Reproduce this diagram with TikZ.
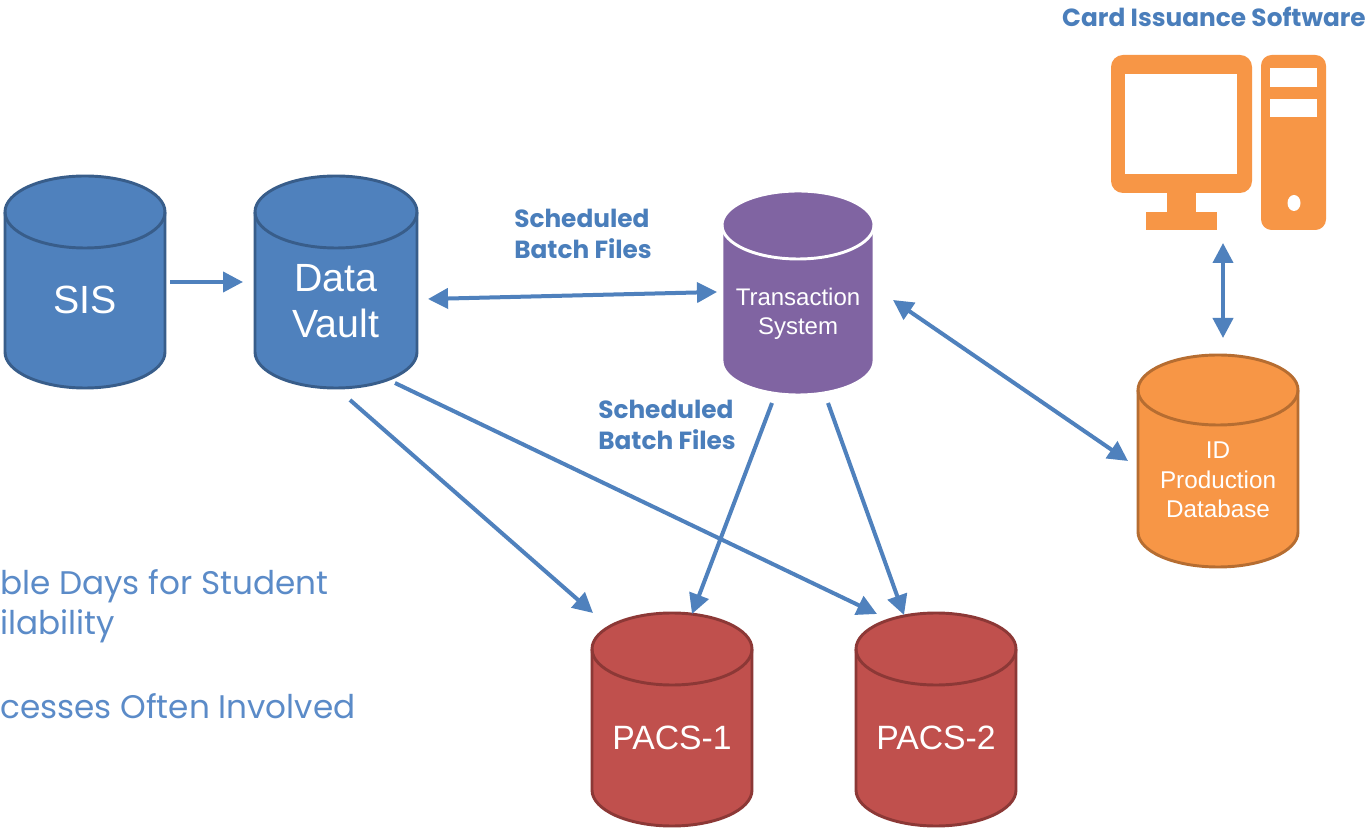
\documentclass[tikz,border=0pt]{standalone}
\usepackage{fontspec}
\setmainfont{Liberation Sans}
\newfontfamily\cg{Poppins}
\usetikzlibrary{arrows.meta,calc}
\definecolor{dbblue}{HTML}{4F81BD}
\definecolor{dbblueD}{HTML}{385D8A}
\definecolor{tspurp}{HTML}{8064A2}
\definecolor{pacsred}{HTML}{C0504D}
\definecolor{pacsredD}{HTML}{8C3836}
\definecolor{idor}{HTML}{F79646}
\definecolor{idorD}{HTML}{B66D31}
\definecolor{arrblue}{HTML}{4F81BD}
\definecolor{lblblue}{HTML}{4A7EBB}
\definecolor{txtblue}{HTML}{5B8BC8}
% #1 cx, #2 ytop (image px), #3 ybottom (image px), #4 rx, #5 ry, #6 style
\newcommand\dbcyl[6]{%
  \path[#6] ({#1-#4},{828-#2-#5}) -- ({#1-#4},{828-#3+#5})
    arc[start angle=180,end angle=360,x radius=#4,y radius=#5]
    -- ({#1+#4},{828-#2-#5})
    arc[start angle=0,end angle=180,x radius=#4,y radius=#5] -- cycle;
  \path[#6,fill=none] ({#1-#4},{828-#2-#5})
    arc[start angle=180,end angle=360,x radius=#4,y radius=#5];
}
\tikzset{
  bluecyl/.style={fill=dbblue,draw=dbblueD,line width=2.2pt},
  purpcyl/.style={fill=tspurp,draw=white,line width=2.2pt},
  redcyl/.style={fill=pacsred,draw=pacsredD,line width=2.2pt},
  orcyl/.style={fill=idor,draw=idorD,line width=2.2pt},
  dbtxt/.style={text=white,align=center,inner sep=0pt},
  conn/.style={draw=arrblue,line width=3pt,-{Triangle[length=15pt,width=15pt]}},
  bconn/.style={draw=arrblue,line width=3pt,{Triangle[length=15pt,width=15pt]}-{Triangle[length=15pt,width=15pt]}},
  lbl/.style={text=lblblue,font=\cg\bfseries\fontsize{18.6}{23.3}\selectfont,align=left,inner sep=0pt},
  side/.style={text=txtblue,font=\cg\fontsize{24.5}{28}\selectfont,inner sep=0pt},
  pcpart/.style={fill=idor,draw=none},
}
\begin{document}
\begin{tikzpicture}[x=0.75pt,y=0.75pt]
\useasboundingbox (0,0) rectangle (1369,828);
\fill[white] (0,0) rectangle (1369,828);

% cylinders
\dbcyl{85}{176}{388}{80}{36}{bluecyl}
\node[dbtxt,font=\fontsize{29.5}{34}\selectfont] (sis) at (85,528) {SIS};
\dbcyl{336}{176}{388}{81}{36}{bluecyl}
\node[dbtxt,font=\fontsize{29.5}{35}\selectfont] (dv) at (336,527) {Data\\Vault};
\dbcyl{798}{191}{395}{76}{34}{purpcyl}
\node[dbtxt,font=\fontsize{18}{22}\selectfont] (ts) at (798,514) {Transaction\\System};
\dbcyl{672}{613}{826}{80}{36}{redcyl}
\node[dbtxt,font=\fontsize{25.3}{28}\selectfont] (p1) at (672,90) {PACS-1};
\dbcyl{936}{613}{826}{80}{36}{redcyl}
\node[dbtxt,font=\fontsize{25.3}{28}\selectfont] (p2) at (936,90) {PACS-2};
\dbcyl{1218}{355}{567}{80}{35}{orcyl}
\node[dbtxt,font=\fontsize{18.2}{22}\selectfont] (id) at (1218,348) {ID\\Production\\Database};

% computer icon
\fill[pcpart,rounded corners=9] (1111,773) rectangle (1252,635);
\fill[white] (1125,754) rectangle (1237,654);
\fill[pcpart] (1167,636) rectangle (1196,616);
\fill[pcpart] (1146,616) rectangle (1217,598);
\fill[pcpart,rounded corners=8] (1261,773) rectangle (1326,598);
\fill[white] (1270,760) rectangle (1317,741);
\fill[white] (1270,729) rectangle (1317,711);
\fill[white] (1294,625) ellipse [x radius=6.5,y radius=8];
\node[inner sep=0pt] (pc) at (1218,685) {};

% labels
\node[lbl,anchor=east] (title) at (1366,811) {Card Issuance Software};
\node[lbl,anchor=west] (lb1) at (514,594.5) {Scheduled\\Batch Files};
\node[lbl,anchor=west] (lb2) at (598,403.5) {Scheduled\\Batch Files};
\node[side,anchor=base west] (s1) at (0,233) {ble Days for Student};
\node[side,anchor=base west] (s2) at (0,194) {ilability};
\node[side,anchor=base west] (s3) at (0,110) {cesses Often Involved};

% connector end points
\coordinate (sisE) at (170,546);
\coordinate (dvW) at (243,546);
\coordinate (dvE) at (428,529);
\coordinate (tsW) at (717,536);
\coordinate (dvS1) at (350,428);
\coordinate (dvS2) at (395,445);
\coordinate (p1N1) at (593,215);
\coordinate (p1N2) at (692,214);
\coordinate (p2N1) at (877,214);
\coordinate (p2N2) at (904,213);
\coordinate (tsS1) at (772,425);
\coordinate (tsS2) at (828,425);
\coordinate (tsE) at (893,528);
\coordinate (idW) at (1128,367);
\coordinate (pcS) at (1223,585);
\coordinate (idN) at (1223,490);

\draw[conn] (sisE) -- (dvW);
\draw[bconn] (dvE) -- (tsW);
\draw[conn] (dvS1) -- (p1N1);
\draw[conn] (dvS2) -- (p2N1);
\draw[conn] (tsS1) -- (p1N2);
\draw[conn] (tsS2) -- (p2N2);
\draw[bconn] (tsE) -- (idW);
\draw[bconn] (pcS) -- (idN);
\end{tikzpicture}
\end{document}
